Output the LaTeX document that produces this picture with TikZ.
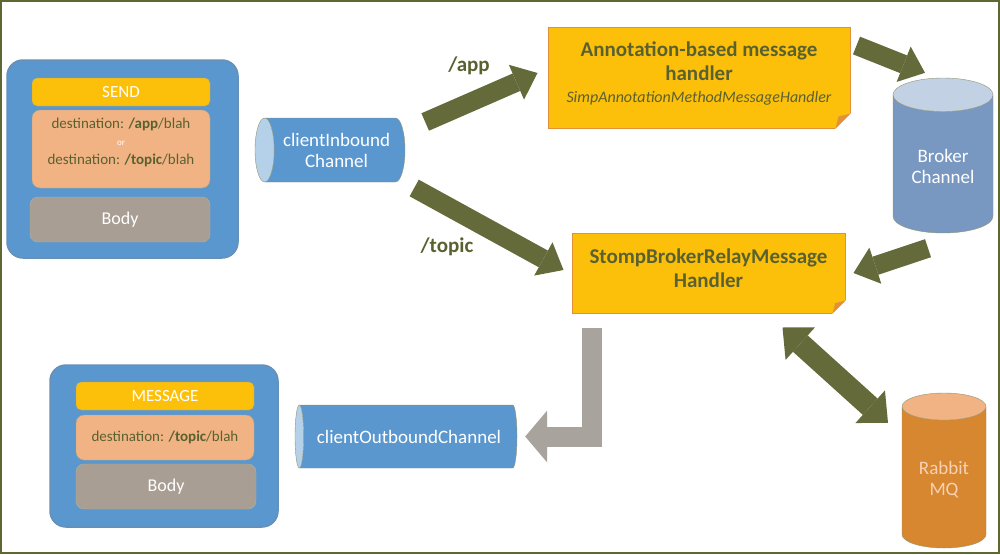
\documentclass[tikz,border=0pt]{standalone}
\usepackage{fontspec}
\setmainfont{Carlito}
\usetikzlibrary{shapes.geometric,arrows.meta,calc}

\definecolor{boxblue}{HTML}{5B97CF}
\definecolor{boxyellow}{HTML}{FDC00A}
\definecolor{peach}{HTML}{F1B384}
\definecolor{rabbit}{HTML}{D6872F}
\definecolor{olive}{HTML}{5F6733}
\definecolor{txtolive}{HTML}{5A6130}
\definecolor{arrolive}{HTML}{646A3A}
\definecolor{bodygray}{HTML}{A89E93}
\definecolor{brokerblue}{HTML}{7898C2}
\definecolor{lgray}{HTML}{A8A39D}
\definecolor{foldorange}{HTML}{E0913A}

\tikzset{
  fold/.pic = {\fill[white] (1,1) -- (-#1-1,1) -- (1,-#1-1) -- cycle;
    \fill[foldorange] (-#1,0) -- (0,-#1) -- (-0.8*#1,-0.8*#1) -- cycle;},
  frame/.style = {rounded corners=16pt, fill=boxblue, draw=boxblue!70!gray, line width=1.5pt},
  hdr/.style = {rounded corners=5pt, fill=boxyellow, draw=olive!60, text=white,
    minimum width=178pt, minimum height=28pt, font=\fontsize{17}{19}\selectfont},
  dest/.style = {rounded corners=8pt, fill=peach, draw=olive!60, text=txtolive,
    minimum width=178pt, align=center, font=\fontsize{15}{18}\selectfont},
  bodybox/.style = {rounded corners=8pt, fill=bodygray, draw=olive!50, text=white,
    minimum width=180pt, minimum height=45pt, font=\fontsize{18}{20}\selectfont},
  handler/.style = {fill=boxyellow, draw=foldorange, line width=1pt, inner sep=0pt},
  htext/.style = {text=txtolive, align=center, font=\bfseries\fontsize{21}{24}\selectfont},
  pipe/.style = {cylinder, shape border rotate=180, aspect=0.5, draw=olive!70, anchor=shape center,
    cylinder uses custom fill, cylinder body fill=boxblue, cylinder end fill=boxblue!45,
    text=white, align=center, inner sep=2pt, font=\fontsize{19}{21}\selectfont},
  drum/.style = {cylinder, shape border rotate=90, aspect=0.5, draw=olive!70, anchor=shape center,
    cylinder uses custom fill, text=white, align=center, inner sep=2pt,
    font=\fontsize{19}{21}\selectfont},
  lbl/.style = {text=txtolive, font=\bfseries\fontsize{21}{24}\selectfont},
  blk/.style = {arrolive, line width=19pt, -{Triangle[width=38pt,length=23pt,line width=0pt]}},
}

\begin{document}
\begin{tikzpicture}[x=1pt,y=-1pt]
    \useasboundingbox (0,0) rectangle (1000,554);
    \draw[olive,line width=2pt] (1,1) rectangle (999,553);

    % SEND frame
    \node[frame, minimum width=231pt, minimum height=198pt] (sendf) at (122.5,159) {};
    \node[hdr] (send) at (121,92) {SEND};
    \node[dest, minimum height=78pt, label={[dest,draw=none,fill=none,yshift=7pt]center:
        destination: \textbf{/app}/blah\\[-1pt]{\fontsize{9}{9}\selectfont\color{white}or}\\[1pt]destination: \textbf{/topic}/blah}]
        (sdest) at (121,149) {};
    \node[bodybox] (sbody) at (120,219.5) {Body};

    % MESSAGE frame
    \node[frame, minimum width=228pt, minimum height=162pt] (msgf) at (164,446) {};
    \node[hdr] (msg) at (165,396) {MESSAGE};
    \node[dest, minimum height=45pt] (mdest) at (165,437.5) {destination: \textbf{/topic}/blah};
    \node[bodybox] (mbody) at (166,486.5) {Body};

    % channels
    \node[pipe, minimum width=64pt, minimum height=150pt] (inb) at (330,150) {clientInbound\\Channel};
    \node[pipe, minimum width=63pt, minimum height=222pt] (outb) at (406,436.5) {clientOutboundChannel};
    \node[drum, minimum width=100pt, minimum height=155pt, cylinder body fill=brokerblue,
        cylinder end fill=brokerblue!45] (broker) at (943,155.5) {Broker\\Channel};
    \node[drum, minimum width=84pt, minimum height=155pt, cylinder body fill=rabbit,
        cylinder end fill=peach, text=peach!60!white] (mq) at (944,470.5) {Rabbit\\MQ};

    % handlers
    \node[handler, minimum width=302pt, minimum height=101pt, label={[htext,yshift=4pt]center:
        Annotation-based message\\handler\\[-2pt]{\mdseries\itshape\fontsize{16}{18}\selectfont SimpAnnotationMethodMessageHandler}}]
        (ann) at (699,77.5) {};
    \pic at (ann.south east) {fold=15};
    \node[handler, minimum width=273pt, minimum height=80pt, label={[htext,yshift=5pt]center:
        StompBrokerRelayMessage\\Handler}] (stomp) at (708.5,273) {};
    \pic at (stomp.south east) {fold=13};

    \node[lbl] (app) at (469,66) {/app};
    \node[lbl] (topic) at (447,247) {/topic};

    % arrows
    \draw[blk] ($(inb.east)+(20,-28)$) -- ($(ann.west)+(-10,-4.5)$);
    \draw[blk] ($(inb.east)+(9,38)$) -- ($(stomp.west)+(-8,-3)$);
    \draw[blk] ($(ann.north east)+(6,19)$) -- ($(broker.north)+(-18,-5)$);
    \draw[blk] ($(broker.south)+(-15,15)$) -- ($(stomp.east)+(8,0)$);
    \draw[blk, line width=22pt, {Triangle[width=44pt,length=24pt,line width=0pt]}-{Triangle[width=44pt,length=24pt,line width=0pt]}]
        ($(stomp.south east)+(-63,14)$) -- ($(mq.north)+(-56,30)$);
    \draw[lgray, line width=20pt, line join=miter, shorten >=8pt,
        -{Triangle[width=52pt,length=22pt,line width=0pt]}]
        ($(stomp.south west)+(20,14)$) |- (outb.east);
\end{tikzpicture}
\end{document}
